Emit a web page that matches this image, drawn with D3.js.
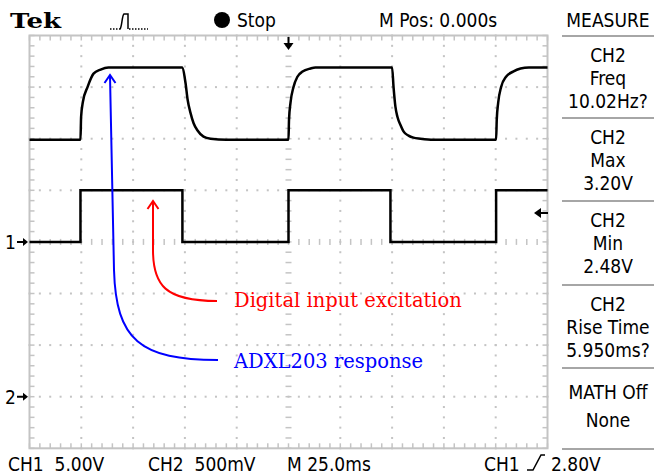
<!DOCTYPE html>
<html>
<head>
<meta charset="utf-8">
<script src="https://cdn.jsdelivr.net/npm/d3@7"></script>
<style>
  body { margin: 0; background: #fff; }
  text { font-family: "DejaVu Sans Condensed", "DejaVu Sans", sans-serif; font-stretch: condensed; white-space: pre; }
  text.serif { font-family: "DejaVu Serif", serif; font-stretch: normal; }
</style>
</head>
<body>
<svg></svg>
<script>
// CH1: digital excitation, [time ms, volts]
const ch1Points = [
  [-125, 0], [-100.4, 5], [-51.2, 0], [0, 5], [49.2, 0], [100.2, 5], [125, 5]
];

// CH2: ADXL203 output, [time ms, volts]
const ch2Points = [
  [-125, 2.49], [-100.4, 2.49], [-100.1, 2.71], [-99.2, 2.86], [-97.0, 3.00],
  [-94.1, 3.13], [-90.7, 3.17], [-86.9, 3.19], [-51.4, 3.19], [-49.7, 3.04],
  [-48.7, 2.88], [-47.3, 2.75], [-45.8, 2.65], [-43.9, 2.58], [-41.0, 2.52],
  [-37.6, 2.50], [-30, 2.49], [0, 2.49], [0.24, 2.68], [0.97, 2.85],
  [2.4, 3.00], [4.3, 3.10], [6.8, 3.15], [10.6, 3.18], [13, 3.19],
  [50.0, 3.19], [50.7, 3.00], [51.6, 2.81], [52.6, 2.71], [54.1, 2.63],
  [55.5, 2.57], [57.9, 2.53], [60.3, 2.51], [63.7, 2.50], [70, 2.49],
  [100.2, 2.49], [100.5, 2.68], [101.2, 2.85], [102.6, 3.00], [105, 3.10],
  [108.4, 3.15], [112, 3.18], [116, 3.19], [125, 3.19]
];

const ch1TrigLevel = 2.80;
const measureBlocks = [
  ['CH2', 'Freq', '10.02Hz?'],
  ['CH2', 'Max', '3.20V'],
  ['CH2', 'Min', '2.48V'],
  ['CH2', 'Rise Time', '5.950ms?']
];
const mathLabels = ['MATH Off', 'None'];
const statusLabels = [
  { x: 8, text: 'CH1  5.00V' },
  { x: 148, text: 'CH2  500mV' },
  { x: 287, text: 'M 25.0ms' },
  { x: 484, text: 'CH1' },
  { x: 551, text: '2.80V' }
];

const width = 654, height = 476;
const plotL = 29.5, plotR = 547.5, plotT = 35.5, plotB = 448.3;
const gridColor = '#c4c4c4';

const svg = d3.select('svg')
  .attr('width', width)
  .attr('height', height);

svg.append('rect').attr('width', width).attr('height', height).attr('fill', '#fff');

// scales: 10 x 8 divisions, 25 ms/div, CH1 5 V/div at centre, CH2 0.5 V/div ref at 3 div below
const x = d3.scaleLinear().domain([-125, 125]).range([plotL, plotR]);
const y1 = d3.scaleLinear().domain([-20, 20]).range([plotB, plotT]);
const y2 = d3.scaleLinear().domain([-0.5, 3.5]).range([plotB, plotT]);
const xDiv = d3.scaleLinear().domain([0, 10]).range([plotL, plotR]);
const yDiv = d3.scaleLinear().domain([0, 8]).range([plotT, plotB]);

const grid = svg.append('g');
const minorX = d3.range(0, 50.5, 1).map(d => d / 5);
const minorY = d3.range(0, 40.5, 1).map(d => d / 5);

// dotted graticule
for (let i = 1; i < 10; i++) {
  if (i === 5) continue;
  grid.selectAll(null).data(minorY).join('rect')
    .attr('x', xDiv(i) - 1).attr('y', d => yDiv(d) - 1)
    .attr('width', 2).attr('height', 2).attr('fill', gridColor);
}
for (let j = 1; j < 8; j++) {
  if (j === 4) continue;
  grid.selectAll(null).data(minorX).join('rect')
    .attr('x', d => xDiv(d) - 1).attr('y', yDiv(j) - 1)
    .attr('width', 2).attr('height', 2).attr('fill', gridColor);
}

// centre axes with small dashes
grid.selectAll(null).data(minorY).join('line')
  .attr('x1', xDiv(5) - 3).attr('x2', xDiv(5) + 3)
  .attr('y1', d => yDiv(d)).attr('y2', d => yDiv(d))
  .attr('stroke', gridColor).attr('stroke-width', 1.5);
grid.selectAll(null).data(minorX).join('line')
  .attr('y1', yDiv(4) - 3).attr('y2', yDiv(4) + 3)
  .attr('x1', d => xDiv(d)).attr('x2', d => xDiv(d))
  .attr('stroke', gridColor).attr('stroke-width', 1.5);

// frame and edge ticks
grid.append('rect')
  .attr('x', plotL).attr('y', plotT)
  .attr('width', plotR - plotL).attr('height', plotB - plotT)
  .attr('fill', 'none').attr('stroke', gridColor).attr('stroke-width', 2);
grid.selectAll(null).data(minorX).join('line')
  .attr('x1', d => xDiv(d)).attr('x2', d => xDiv(d))
  .attr('y1', plotT).attr('y2', plotT + 5)
  .attr('stroke', gridColor).attr('stroke-width', 1.5);
grid.selectAll(null).data(minorX).join('line')
  .attr('x1', d => xDiv(d)).attr('x2', d => xDiv(d))
  .attr('y1', plotB).attr('y2', plotB - 5)
  .attr('stroke', gridColor).attr('stroke-width', 1.5);
grid.selectAll(null).data(minorY).join('line')
  .attr('x1', plotL).attr('x2', plotL + 5)
  .attr('y1', d => yDiv(d)).attr('y2', d => yDiv(d))
  .attr('stroke', gridColor).attr('stroke-width', 1.5);
grid.selectAll(null).data(minorY).join('line')
  .attr('x1', plotR).attr('x2', plotR - 5)
  .attr('y1', d => yDiv(d)).attr('y2', d => yDiv(d))
  .attr('stroke', gridColor).attr('stroke-width', 1.5);

// traces
svg.append('path')
  .datum(ch1Points)
  .attr('d', d3.line().x(d => x(d[0])).y(d => y1(d[1])).curve(d3.curveStepAfter))
  .attr('fill', 'none').attr('stroke', '#000').attr('stroke-width', 2.5);

svg.append('path')
  .datum(ch2Points)
  .attr('d', d3.line().x(d => x(d[0])).y(d => y2(d[1])).curve(d3.curveMonotoneX))
  .attr('fill', 'none').attr('stroke', '#000').attr('stroke-width', 2.5);

// trigger position marker (top) and trigger level marker (right)
const tx = x(0);
svg.append('line').attr('x1', tx).attr('x2', tx).attr('y1', 37).attr('y2', 45)
  .attr('stroke', '#000').attr('stroke-width', 2);
svg.append('path').attr('d', `M${tx - 5},43 L${tx + 5},43 L${tx},50 Z`).attr('fill', '#000');
const ty = y1(ch1TrigLevel);
svg.append('line').attr('x1', 540).attr('x2', 548).attr('y1', ty).attr('y2', ty)
  .attr('stroke', '#000').attr('stroke-width', 2);
svg.append('path').attr('d', `M534,${ty} L541,${ty - 5} L541,${ty + 5} Z`).attr('fill', '#000');

// channel ground markers
[[1, y1(0)], [2, y2(0)]].forEach(([ch, yy]) => {
  svg.append('text').attr('x', 5).attr('y', yy + 7).attr('font-size', 19).text(ch);
  svg.append('path').attr('d', `M17,${yy - 1} L23,${yy - 1} L23,${yy - 4} L28,${yy} L23,${yy + 4} L23,${yy + 1} L17,${yy + 1} Z`)
    .attr('fill', '#000');
});

// top status bar
svg.append('text').attr('class', 'serif').attr('x', 10).attr('y', 28)
  .attr('font-weight', 'bold')
  .attr('font-size', 21).attr('textLength', 51).attr('lengthAdjust', 'spacingAndGlyphs')
  .text('Tek');
svg.append('path')
  .attr('d', 'M110,29 L121,29')
  .attr('fill', 'none').attr('stroke', '#000').attr('stroke-width', 1.5).attr('stroke-dasharray', '1.5,1.5');
svg.append('path')
  .attr('d', 'M129,29 L148,29')
  .attr('fill', 'none').attr('stroke', '#000').attr('stroke-width', 1.5).attr('stroke-dasharray', '1.5,1.5');
svg.append('path')
  .attr('d', 'M120,29 C122,27 122,15 124,14 L128,14 L128,29')
  .attr('fill', 'none').attr('stroke', '#000').attr('stroke-width', 1.5);
svg.append('circle').attr('cx', 222).attr('cy', 20).attr('r', 8).attr('fill', '#000');
svg.append('text').attr('x', 237).attr('y', 27).attr('font-size', 19).text('Stop');
svg.append('text').attr('x', 379).attr('y', 27).attr('font-size', 19).text('M Pos: 0.000s');

// measure panel
const px = 608;
svg.append('text').attr('x', px).attr('y', 27).attr('font-size', 19)
  .attr('text-anchor', 'middle').text('MEASURE');
const sepY = [36, 118, 201, 285, 368];
sepY.forEach(s => {
  svg.append('line').attr('x1', 562).attr('x2', 654).attr('y1', s).attr('y2', s)
    .attr('stroke', '#888').attr('stroke-width', 1.5);
});
measureBlocks.forEach((lines, i) => {
  lines.forEach((t, k) => {
    svg.append('text').attr('x', px).attr('y', sepY[i] + 26 + k * 23)
      .attr('font-size', 19).attr('text-anchor', 'middle').text(t);
  });
});
mathLabels.forEach((t, k) => {
  svg.append('text').attr('x', px).attr('y', 399 + k * 28)
    .attr('font-size', 19).attr('text-anchor', 'middle').text(t);
});
svg.append('line').attr('x1', 562).attr('x2', 654).attr('y1', 449).attr('y2', 449)
  .attr('stroke', '#888').attr('stroke-width', 1.5);

// bottom status bar
statusLabels.forEach(s => {
  svg.append('text').attr('x', s.x).attr('y', 471).attr('font-size', 19).text(s.text);
});
svg.append('path').attr('d', 'M527,470 L533,470 L541,455 L545,455')
  .attr('fill', 'none').attr('stroke', '#000').attr('stroke-width', 1.5);

// annotations
svg.append('path').attr('d', 'M153,202 L153,250 C153,285 165,301 217,301')
  .attr('fill', 'none').attr('stroke', '#f00').attr('stroke-width', 2);
svg.append('path').attr('d', 'M147.5,209 L153,201 L158.5,209')
  .attr('fill', 'none').attr('stroke', '#f00').attr('stroke-width', 2);
svg.append('text').attr('class', 'serif').attr('x', 234).attr('y', 307)
  .attr('font-size', 19.5).attr('fill', '#f00')
  .text('Digital input excitation');

svg.append('path').attr('d', 'M110,76 L114,270 C116,340 140,360 218,360')
  .attr('fill', 'none').attr('stroke', '#00f').attr('stroke-width', 2);
svg.append('path').attr('d', 'M104.5,83 L110,75 L115.5,83')
  .attr('fill', 'none').attr('stroke', '#00f').attr('stroke-width', 2);
svg.append('text').attr('class', 'serif').attr('x', 234).attr('y', 368)
  .attr('font-size', 19.5).attr('fill', '#00f')
  .text('ADXL203 response');
</script>
</body>
</html>
